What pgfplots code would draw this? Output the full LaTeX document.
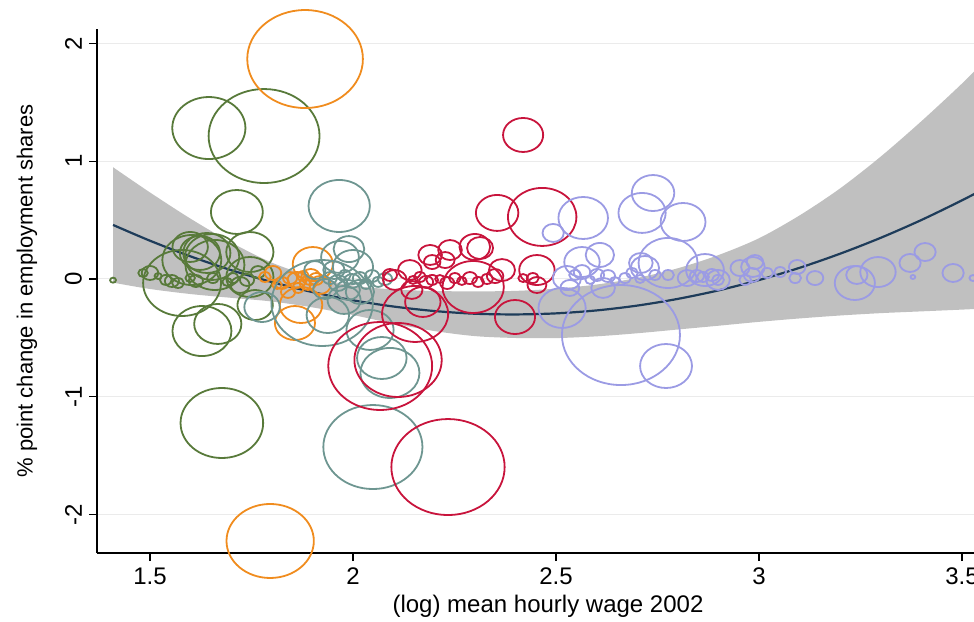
\documentclass[border=0pt]{standalone}
\usepackage{pgfplots}
\pgfplotsset{compat=1.18}
\usepgfplotslibrary{fillbetween}
\usepackage{fontspec}
\setmainfont{Liberation Sans}
\definecolor{cgreen}{RGB}{88,122,58}
\definecolor{corange}{RGB}{240,140,30}
\definecolor{cteal}{RGB}{110,150,145}
\definecolor{cred}{RGB}{200,20,60}
\definecolor{clav}{RGB}{155,155,228}
\definecolor{cband}{RGB}{192,192,192}
\definecolor{cline}{RGB}{30,60,90}
\pgfplotsset{
  bubble/.style={scatter, only marks, mark=o,
    scatter/use mapped color={draw=#1},
    visualization depends on={\thisrow{r} \as \rr},
    scatter/@pre marker code/.append style={/tikz/mark size=0.5*\rr},
    mark options={xscale=1.18, line width=0.9pt}},
}
\begin{document}
\begin{tikzpicture}
\begin{axis}[
  at={(0,0)}, anchor=south west,
  scale only axis, width=451pt, height=262pt,
  xmin=1.3695, xmax=3.5911, ymin=-2.327, ymax=2.123,
  clip=false,
  axis x line*=bottom, axis y line*=left,
  axis line style={line width=0.6pt, black},
  xtick={1.5,2,2.5,3,3.5}, xticklabels={1.5,2,2.5,3,3.5},
  ytick={-2,-1,0,1,2}, yticklabels={-2,-1,0,1,2},
  tick align=outside, major tick length=4pt,
  tick style={line width=0.6pt, black},
  ymajorgrids, grid style={line width=0.5pt, color=black!8},
  ticklabel style={font=\fontsize{12}{14}\selectfont},
  yticklabel style={rotate=90, anchor=south},
  xlabel={(log) mean hourly wage 2002},
  ylabel={\% point change in employment shares},
  xlabel style={at={(axis description cs:0.5,-0.101)}, anchor=center, font=\fontsize{12}{14}\selectfont},
  ylabel style={at={(axis description cs:-0.0776,0.5)}, anchor=center, font=\fontsize{11}{13}\selectfont},
]
\addplot[name path=up, draw=none, smooth] coordinates {
(1.409,0.949) (1.5,0.735) (1.6,0.512) (1.7,0.310) (1.8,0.139) (1.9,0.019) (2.0,-0.056)
(2.1,-0.089) (2.2,-0.102) (2.3,-0.105) (2.4,-0.101) (2.5,-0.082) (2.6,-0.047) (2.7,0.009)
(2.8,0.091) (2.9,0.203) (3.0,0.346) (3.1,0.540) (3.2,0.770) (3.3,1.040) (3.4,1.340)
(3.5,1.660) (3.56,1.870)};
\addplot[name path=lo, draw=none, smooth] coordinates {
(1.409,-0.031) (1.5,-0.085) (1.6,-0.128) (1.7,-0.160) (1.8,-0.191) (1.9,-0.241) (2.0,-0.306)
(2.1,-0.379) (2.2,-0.442) (2.3,-0.485) (2.4,-0.501) (2.5,-0.502) (2.6,-0.487) (2.7,-0.461)
(2.8,-0.429) (2.9,-0.397) (3.0,-0.364) (3.1,-0.335) (3.2,-0.310) (3.3,-0.290) (3.4,-0.275)
(3.5,-0.260) (3.56,-0.250)};
\addplot[cband, draw=none] fill between[of=up and lo];

\addplot[bubble=cgreen] table[row sep=\\] {
x y r\\
1.409 -0.01 2.5\\ 1.483 0.051 4\\ 1.500 0.051 7\\ 1.520 0.025 3\\ 1.539 -0.008 5\\
1.554 -0.017 6\\ 1.569 -0.034 5\\ 1.579 -0.034 33\\ 1.603 0.161 25\\ 1.623 0.221 17\\
1.660 0.119 25\\ 1.640 0.221 20\\ 1.599 0.272 15\\ 1.653 0.187 23\\ 1.655 0.008 5\\
1.690 -0.025 4\\ 1.704 0.008 5\\ 1.739 -0.008 6\\ 1.746 0.017 20\\ 1.746 0.229 20\\
1.759 -0.221 15\\ 1.628 -0.442 25\\ 1.667 -0.382 20\\ 1.645 1.282 31\\ 1.781 1.214 47\\
1.714 0.569 22\\ 1.677 -1.223 35\\ 1.599 0.008 4\\ 1.613 -0.017 6\\ 1.722 -0.051 8\\
1.766 0.059 6\\
};
\addplot[bubble=corange] table[row sep=\\] {
x y r\\
1.882 1.868 49\\ 1.796 -2.225 37\\ 1.901 0.127 17\\ 1.857 -0.374 17\\ 1.872 -0.221 18\\
1.783 0.017 5\\ 1.803 0.051 7\\ 1.825 -0.034 6\\ 1.845 0.008 6\\ 1.862 -0.008 8\\
1.877 0.025 5\\ 1.889 -0.034 7\\ 1.865 -0.076 5\\ 1.909 0.000 6\\ 1.919 -0.051 9\\
1.840 -0.110 6\\ 1.813 -0.051 4\\ 1.896 0.017 8\\
};
\addplot[bubble=cteal] table[row sep=\\] {
x y r\\
1.966 0.620 26\\ 2.049 -1.427 42\\ 1.924 -0.204 43\\ 1.968 0.187 16\\ 2.000 0.102 17\\
1.776 -0.238 15\\ 1.938 -0.306 18\\ 2.042 -0.433 20\\ 2.071 -0.671 21\\ 2.091 -0.798 25\\
1.943 0.008 6\\ 1.963 -0.034 8\\ 1.980 0.034 5\\ 1.998 -0.017 7\\ 2.017 0.008 6\\
2.032 -0.042 5\\ 2.047 0.025 6\\ 2.062 -0.025 5\\ 2.079 0.000 6\\ 1.988 -0.093 10\\
1.953 0.076 9\\ 2.017 -0.110 12\\ 1.978 -0.178 14\\ 1.906 0.076 9\\ 1.931 -0.085 10\\
1.990 0.254 13\\
};
\addplot[bubble=cred] table[row sep=\\] {
x y r\\
2.419 1.223 17\\ 2.466 0.527 29\\ 2.355 0.561 18\\ 2.300 0.272 13\\ 2.239 0.246 10\\
2.313 0.263 11\\ 2.296 -0.068 26\\ 2.399 -0.323 17\\ 2.153 -0.297 28\\ 2.067 -0.739 44\\
2.111 -0.688 37\\ 2.234 -1.597 48\\ 2.190 0.204 10\\ 2.195 0.144 7\\ 2.103 -0.008 10\\
2.140 0.076 10\\ 2.148 -0.008 4\\ 2.165 0.017 5\\ 2.180 -0.025 6\\ 2.195 -0.008 5\\
2.214 0.000 4\\ 2.232 -0.034 6\\ 2.251 0.008 5\\ 2.268 -0.017 4\\ 2.288 0.008 6\\
2.308 -0.025 5\\ 2.330 0.000 5\\ 2.350 0.025 7\\ 2.172 -0.195 15\\ 2.453 0.076 15\\
2.453 -0.051 8\\ 2.419 0.008 4\\ 2.443 0.008 5\\ 2.367 0.076 11\\ 2.145 -0.093 9\\
2.091 0.034 6\\ 2.227 0.161 8\\
};
\addplot[bubble=clav] table[row sep=\\] {
x y r\\
2.567 0.518 21\\ 2.493 0.391 9\\ 2.739 0.730 18\\ 2.712 0.561 20\\ 2.813 0.484 19\\
2.660 -0.476 50\\ 2.771 -0.739 22\\ 2.776 0.136 25\\ 2.867 0.076 16\\ 2.515 -0.246 20\\
2.608 0.204 12\\ 2.719 0.093 12\\ 2.534 -0.076 8\\ 2.985 0.102 10\\ 2.547 0.034 5\\
2.564 0.059 7\\ 2.584 -0.008 4\\ 2.628 0.025 6\\ 2.645 -0.017 4\\ 2.670 0.008 5\\
2.687 0.051 5\\ 2.707 0.000 4\\ 2.744 0.034 5\\ 2.776 0.034 5\\ 2.847 0.025 6\\
2.862 0.017 5\\ 2.884 0.034 6\\ 2.899 -0.008 5\\ 2.564 0.144 15\\ 2.601 0.034 6\\
2.616 -0.076 10\\ 2.527 0.008 12\\ 2.709 0.136 10\\ 2.823 0.008 8\\ 2.899 -0.008 10\\
2.990 0.144 7\\ 2.983 0.034 7\\ 3.020 0.051 5\\ 3.094 0.102 7\\ 3.089 0.008 5\\
3.138 0.008 7\\ 3.236 -0.034 17\\ 3.241 0.034 9\\ 3.293 0.059 15\\ 3.372 0.136 9\\
3.409 0.229 9\\ 3.379 0.017 2\\ 3.478 0.051 9\\ 3.527 0.008 3\\ 2.953 0.093 8\\
3.052 0.059 5\\ 2.966 -0.008 5\\
};
\addplot[cline, line width=1.1pt, smooth, no marks] coordinates {
(1.409,0.459) (1.5,0.325) (1.6,0.192) (1.7,0.075) (1.8,-0.026) (1.9,-0.111) (2.0,-0.181)
(2.1,-0.234) (2.2,-0.272) (2.3,-0.295) (2.4,-0.301) (2.5,-0.292) (2.6,-0.267) (2.7,-0.226)
(2.8,-0.169) (2.9,-0.097) (3.0,-0.009) (3.1,0.095) (3.2,0.215) (3.3,0.350) (3.4,0.501)
(3.5,0.668) (3.56,0.776)};
\end{axis}
\pgfresetboundingbox
\path[use as bounding box] (-48.5pt,-34pt) rectangle (438.5pt,276.5pt);
\end{tikzpicture}
\end{document}
